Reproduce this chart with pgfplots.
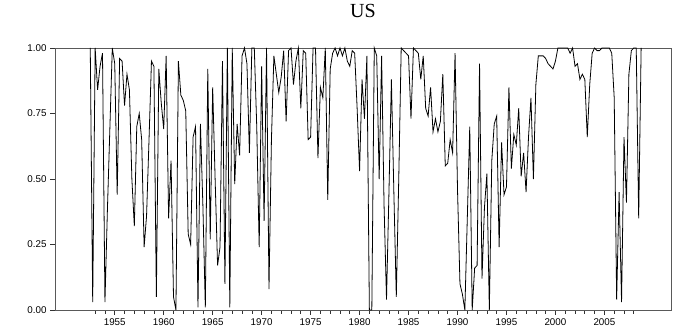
\documentclass[border=0pt]{standalone}
\usepackage{fontspec}
\setmainfont{Liberation Serif}
\setsansfont{Liberation Sans}
\usepackage{pgfplots}
\pgfplotsset{compat=1.18}
\begin{document}
\begin{tikzpicture}
\useasboundingbox (0,0) rectangle (686pt,336pt);
\begin{axis}[
  at={(55pt,26pt)}, anchor=south west,
  width=616pt, height=262pt, scale only axis,
  xmin=1948.9, xmax=2011.8, ymin=0, ymax=1,
  clip=false,
  axis line style={black!65, line width=0.8pt},
  xtick={1955,1960,...,2005},
  minor xtick={1953,...,2008},
  ytick={0,0.25,0.5,0.75,1},
  tick align=outside, xtick pos=bottom, ytick pos=left,
  major tick length=5pt, minor tick length=4pt,
  every tick/.style={black!80, line width=0.6pt},
  ticklabel style={font=\sffamily\fontsize{9.8}{10}\selectfont},
  /pgf/number format/assume math mode=true,
  x tick label style={/pgf/number format/1000 sep={}},
  y tick label style={/pgf/number format/.cd, fixed, fixed zerofill, precision=2},
  title={US},
  title style={font=\fontsize{20}{24}\selectfont, at={(0.5,1)}, anchor=center, yshift=31pt},
]
\addplot[black, line width=0.8pt, mark=none, sharp plot] table {
x y
1952.50 1.00
1952.75 0.03
1953.00 1.00
1953.25 0.84
1953.50 0.93
1953.75 0.98
1954.00 0.03
1954.25 0.38
1954.50 0.69
1954.75 1.00
1955.00 0.94
1955.25 0.44
1955.50 0.96
1955.75 0.95
1956.00 0.78
1956.25 0.90
1956.50 0.84
1956.75 0.50
1957.00 0.32
1957.25 0.70
1957.50 0.75
1957.75 0.65
1958.00 0.24
1958.25 0.36
1958.50 0.65
1958.75 0.95
1959.00 0.93
1959.25 0.05
1959.50 0.92
1959.75 0.79
1960.00 0.69
1960.25 0.97
1960.50 0.35
1960.75 0.57
1961.00 0.05
1961.25 0.00
1961.50 0.95
1961.75 0.82
1962.00 0.80
1962.25 0.76
1962.50 0.29
1962.75 0.25
1963.00 0.66
1963.25 0.70
1963.50 0.01
1963.75 0.71
1964.00 0.40
1964.25 0.01
1964.50 0.92
1964.75 0.27
1965.00 0.85
1965.25 0.50
1965.50 0.17
1965.75 0.24
1966.00 0.95
1966.25 0.10
1966.50 1.00
1966.75 0.01
1967.00 1.00
1967.25 0.48
1967.50 0.71
1967.75 0.59
1968.00 0.97
1968.25 1.00
1968.50 0.94
1968.75 0.60
1969.00 1.00
1969.25 1.00
1969.50 0.70
1969.75 0.24
1970.00 0.93
1970.25 0.34
1970.50 1.00
1970.75 0.08
1971.00 0.65
1971.25 0.97
1971.50 0.90
1971.75 0.83
1972.00 0.89
1972.25 0.99
1972.50 0.72
1972.75 0.99
1973.00 1.00
1973.25 0.86
1973.50 0.95
1973.75 1.00
1974.00 0.77
1974.25 0.99
1974.50 0.98
1974.75 0.65
1975.00 0.66
1975.25 1.00
1975.50 1.00
1975.75 0.58
1976.00 0.85
1976.25 0.81
1976.50 1.00
1976.75 0.42
1977.00 0.92
1977.25 0.98
1977.50 1.00
1977.75 0.97
1978.00 1.00
1978.25 0.97
1978.50 1.00
1978.75 0.95
1979.00 0.93
1979.25 0.99
1979.50 0.98
1979.75 0.77
1980.00 0.53
1980.25 0.88
1980.50 0.73
1980.75 0.97
1981.00 0.00
1981.25 0.00
1981.50 1.00
1981.75 0.97
1982.00 0.50
1982.25 0.97
1982.50 0.40
1982.75 0.04
1983.00 0.45
1983.25 0.88
1983.50 0.45
1983.75 0.05
1984.00 0.50
1984.25 1.00
1984.50 0.99
1984.75 0.98
1985.00 0.97
1985.25 0.73
1985.50 1.00
1985.75 0.99
1986.00 0.98
1986.25 0.88
1986.50 0.97
1986.75 0.77
1987.00 0.74
1987.25 0.85
1987.50 0.68
1987.75 0.73
1988.00 0.68
1988.25 0.72
1988.50 0.90
1988.75 0.55
1989.00 0.56
1989.25 0.65
1989.50 0.60
1989.75 0.98
1990.00 0.46
1990.25 0.10
1990.50 0.06
1990.75 0.00
1991.00 0.35
1991.25 0.70
1991.50 0.00
1991.75 0.16
1992.00 0.17
1992.25 0.94
1992.50 0.12
1992.75 0.39
1993.00 0.52
1993.25 0.00
1993.50 0.57
1993.75 0.71
1994.00 0.74
1994.25 0.24
1994.50 0.64
1994.75 0.44
1995.00 0.47
1995.25 0.85
1995.50 0.54
1995.75 0.67
1996.00 0.63
1996.25 0.77
1996.50 0.51
1996.75 0.60
1997.00 0.45
1997.25 0.66
1997.50 0.81
1997.75 0.50
1998.00 0.86
1998.25 0.97
1998.50 0.97
1998.75 0.97
1999.00 0.96
1999.25 0.94
1999.50 0.93
1999.75 0.92
2000.00 0.95
2000.25 1.00
2000.50 1.00
2000.75 1.00
2001.00 1.00
2001.25 1.00
2001.50 0.98
2001.75 1.00
2002.00 0.93
2002.25 0.94
2002.50 0.88
2002.75 0.90
2003.00 0.88
2003.25 0.66
2003.50 0.86
2003.75 0.98
2004.00 1.00
2004.25 0.99
2004.50 0.99
2004.75 1.00
2005.00 1.00
2005.25 1.00
2005.50 1.00
2005.75 0.98
2006.00 0.81
2006.25 0.04
2006.50 0.45
2006.75 0.03
2007.00 0.66
2007.25 0.41
2007.50 0.90
2007.75 0.99
2008.00 1.00
2008.25 1.00
2008.50 0.35
2008.75 1.00
};
\end{axis}
\end{tikzpicture}
\end{document}
